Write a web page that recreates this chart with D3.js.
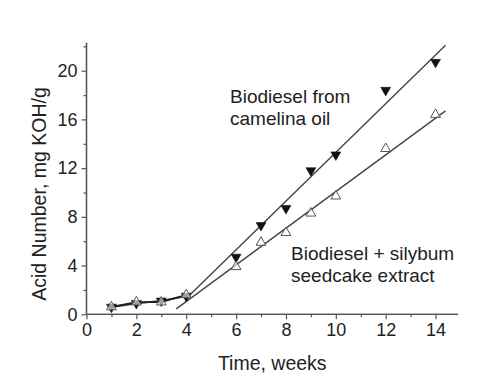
<!DOCTYPE html>
<html><head><meta charset="utf-8">
<script src="https://cdn.jsdelivr.net/npm/d3@7"></script>
<style>
html,body{margin:0;padding:0;background:#fff;}
svg text{font-family:"Liberation Sans",Arial,sans-serif;fill:#222;}
</style></head>
<body>
<svg id="chart" width="479" height="379"></svg>
<script>
// Data
const weeks = [1, 2, 3, 4, 6, 7, 8, 9, 10, 12, 14];
const camelina = [0.6, 0.9, 1.1, 1.5, 4.7, 7.3, 8.7, 11.8, 13.1, 18.4, 20.7];
const silybum  = [0.6, 1.0, 1.0, 1.6, 3.9, 5.9, 6.7, 8.3, 9.7, 13.6, 16.4];
const earlyCount = 4; // first points joined by a polyline
const fitCamelina = [[4.0, 1.3], [14.4, 22.1]];
const fitSilybum  = [[3.6, 0.45], [14.4, 16.7]];
const xTicks = [0, 2, 4, 6, 8, 10, 12, 14];
const xMinor = [1, 3, 5, 7, 9, 11, 13];
const yTicks = [0, 4, 8, 12, 16, 20];
const yMinor = [2, 6, 10, 14, 18, 22];
const labelCamelina = ["Biodiesel from", "camelina oil"];
const labelSilybum = ["Biodiesel + silybum", "seedcake extract"];
const xTitle = "Time, weeks";
const yTitle = "Acid Number, mg KOH/g";

const svg = d3.select("#chart");
const x = d3.scaleLinear().domain([0, 14.9]).range([86.5, 458]);
const y = d3.scaleLinear().domain([0, 22.3]).range([314.3, 42.7]);
const axisColor = "#555";
const fs = 18;

// Axes
const gx = svg.append("g").attr("transform", `translate(0,${y(0)})`)
  .call(d3.axisBottom(x).tickValues(xTicks).tickSize(5).tickPadding(4).tickFormat(d3.format("d")));
gx.append("g").call(d3.axisBottom(x).tickValues(xMinor).tickSize(3).tickFormat(""));
const gy = svg.append("g").attr("transform", `translate(${x(0)},0)`)
  .call(d3.axisLeft(y).tickValues(yTicks).tickSize(5).tickPadding(4).tickFormat(d3.format("d")));
gy.append("g").call(d3.axisLeft(y).tickValues(yMinor).tickSize(3).tickFormat(""));
svg.selectAll(".domain").attr("stroke", axisColor).attr("stroke-width", 1.3);
svg.selectAll(".tick line").attr("stroke", axisColor).attr("stroke-width", 1.2);
svg.selectAll(".tick text").style("font-size", fs + "px").attr("fill", "#222")
  .style("font-family", "Liberation Sans, Arial, sans-serif");
gx.selectAll("path.domain").attr("d", `M${x(0)},0H${x(14.9)}`);
gy.selectAll("path.domain").attr("d", `M0,${y(0)}V${y(22.3)}`);

// Fit lines
const line = d3.line().x(d => x(d[0])).y(d => y(d[1]));
[fitCamelina, fitSilybum].forEach(f => {
  svg.append("path").attr("d", line(f)).attr("fill", "none")
    .attr("stroke", "#444").attr("stroke-width", 1.4);
});

// Early polylines
[camelina, silybum].forEach(s => {
  const pts = weeks.slice(0, earlyCount).map((w, i) => [w, s[i]]);
  svg.append("path").attr("d", line(pts)).attr("fill", "none")
    .attr("stroke", "#222").attr("stroke-width", 1.8);
});

// Markers
const tri = d3.symbol(d3.symbolTriangle, 42);
svg.append("g").selectAll("path").data(weeks.map((w, i) => [w, camelina[i]]))
  .join("path").attr("d", tri)
  .attr("transform", d => `translate(${x(d[0])},${y(d[1])}) rotate(180)`)
  .attr("fill", "#111").attr("stroke", "#111").attr("stroke-width", 0.6);
svg.append("g").selectAll("path").data(weeks.map((w, i) => [w, silybum[i]]))
  .join("path").attr("d", tri)
  .attr("transform", d => `translate(${x(d[0])},${y(d[1])})`)
  .attr("fill", "#fff").attr("fill-opacity", 0.6).attr("stroke", "#555").attr("stroke-width", 1);

// Annotations
function multi(lines, x0, y0) {
  const t = svg.append("text").style("font-size", "19px");
  lines.forEach((s, i) => t.append("tspan").attr("x", x0).attr("y", y0 + i * 22).text(s));
}
multi(labelCamelina, 230, 103);
multi(labelSilybum, 291, 260);

// Titles
svg.append("text").attr("x", (x(0) + x(14.9)) / 2).attr("y", 370)
  .attr("text-anchor", "middle").style("font-size", "19.5px").text(xTitle);
svg.append("text").attr("transform", "translate(46,194) rotate(-90)")
  .attr("text-anchor", "middle").style("font-size", "19.5px").text(yTitle);
</script>
</body></html>
